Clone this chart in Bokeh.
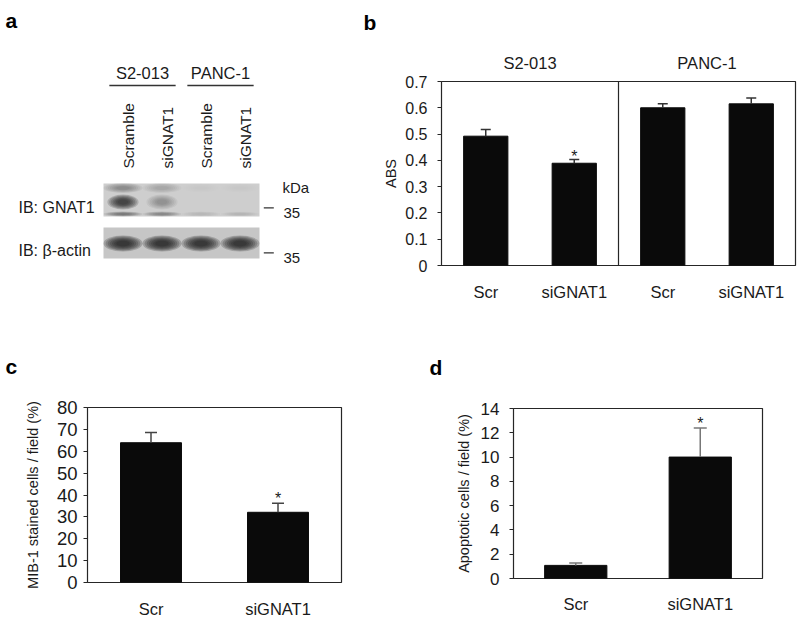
import math
from bokeh.plotting import figure
from bokeh.models import Range1d, FixedTicker, Span, Label, LinearAxis
from bokeh.layouts import row, column
from bokeh.embed import file_html
from bokeh.resources import INLINE
from bokeh.core.properties import value

FONT = "Liberation Sans"
INK = "#1a1a1a"
BAR = "#0a0a0a"
FRAME = "#262626"

# ---------------- data ----------------
# panel a (western blot)
blot_lanes = ["Scramble", "siGNAT1", "Scramble", "siGNAT1"]
blot_cell_lines = ["S2-013", "PANC-1"]
blot_rows = ["IB: GNAT1", "IB: \u03b2-actin"]
marker_kda = ["35", "35"]
gnat1_band = [0.9, 0.25, 0.0, 0.0]
gnat1_top_smear = [0.45, 0.25, 0.03, 0.03]
gnat1_bottom_line = [0.55, 0.45, 0.12, 0.1]
actin_band = [1.0, 1.0, 0.98, 0.95]

# panel b
b_groups = ["S2-013", "PANC-1"]
b_cats = ["Scr", "siGNAT1", "Scr", "siGNAT1"]
b_abs = [0.492, 0.389, 0.600, 0.615]
b_err = [0.025, 0.014, 0.015, 0.022]
b_sig = ["", "*", "", ""]
b_yticks = [0, 0.1, 0.2, 0.3, 0.4, 0.5, 0.6, 0.7]

# panel c
c_cats = ["Scr", "siGNAT1"]
c_vals = [63.9, 32.1]
c_err = [4.7, 4.1]
c_sig = ["", "*"]
c_yticks = [0, 10, 20, 30, 40, 50, 60, 70, 80]

# panel d
d_cats = ["Scr", "siGNAT1"]
d_vals = [1.08, 10.0]
d_err = [0.2, 2.4]
d_sig = ["", "*"]
d_yticks = [0, 2, 4, 6, 8, 10, 12, 14]


# ---------------- helpers ----------------
def new_bar_fig(w, h, xr, yr, ml, mr, mt, mb):
    p = figure(width=w, height=h, x_range=Range1d(*xr), y_range=Range1d(*yr),
               output_backend="svg", toolbar_location=None,
               min_border_left=ml, min_border_right=mr,
               min_border_top=mt, min_border_bottom=mb)
    p.xgrid.visible = False
    p.ygrid.visible = False
    p.outline_line_color = FRAME
    p.outline_line_width = 1.2
    p.background_fill_color = "white"
    p.border_fill_color = "white"
    return p


def letter_title(p, letter, offset, standoff):
    p.title.text = letter
    p.title.align = "left"
    p.title.offset = offset
    p.title.standoff = standoff
    p.title.vertical_align = "bottom"
    p.title.text_font = FONT
    p.title.text_font_size = "21px"
    p.title.text_font_style = "bold"
    p.title.text_color = "#000000"


def style_axes(p, xs, cats, yticks, ylabel, tick_font, tick_standoff,
               label_standoff, cat_standoff, overrides=None):
    xa = p.xaxis[0]
    xa.ticker = FixedTicker(ticks=xs)
    xa.major_label_overrides = {x: c for x, c in zip(xs, cats)}
    xa.axis_line_color = None
    xa.major_tick_line_color = None
    xa.minor_tick_line_color = None
    xa.major_tick_out = 0
    xa.major_tick_in = 0
    xa.major_label_standoff = cat_standoff
    xa.major_label_text_font = FONT
    xa.major_label_text_font_size = "16.5px"
    xa.major_label_text_color = INK

    ya = p.yaxis[0]
    ya.ticker = FixedTicker(ticks=yticks)
    if overrides:
        ya.major_label_overrides = overrides
    ya.axis_line_color = None
    ya.minor_tick_line_color = None
    ya.major_tick_line_color = FRAME
    ya.major_tick_out = 4
    ya.major_tick_in = 0
    ya.major_label_standoff = tick_standoff
    ya.major_label_text_font = FONT
    ya.major_label_text_font_size = tick_font
    ya.major_label_text_color = INK
    ya.axis_label = ylabel
    ya.axis_label_text_font = FONT
    ya.axis_label_text_font_size = "14.5px"
    ya.axis_label_text_font_style = "normal"
    ya.axis_label_text_color = INK
    ya.axis_label_standoff = label_standoff


def draw_bars(p, xs, vals, errs, sig, width, err_color, cap, sig_offset):
    tops = [v + e for v, e in zip(vals, errs)]
    p.vbar(x=xs, top=vals, bottom=0, width=width, fill_color=BAR, line_color=BAR)
    p.segment(x0=xs, y0=vals, x1=xs, y1=tops, line_color=err_color, line_width=1.5)
    p.scatter(x=xs, y=tops, marker="dash", size=cap, line_color=err_color, line_width=1.5)
    p.text(x=xs, y=tops, text=sig, text_align="center", text_baseline="alphabetic",
           y_offset=sig_offset, text_font=value(FONT), text_font_size="16px",
           text_color=INK)


# ---------------- layout geometry (page px) ----------------
TOTAL_W, TOTAL_H = 800, 620
TOP_H = 318
BOT_H = TOTAL_H - TOP_H
A_W = 380
B_W = TOTAL_W - A_W
C_W = 404
D_W = TOTAL_W - C_W

# ---------------- panel a: blot ----------------
LANE = 39.0          # px per lane
LANE0 = 103.0        # page x of the blot's left edge


def lx(px):
    return (px - LANE0) / LANE


pa = figure(width=A_W, height=TOP_H, x_range=Range1d(lx(0), lx(A_W)),
            y_range=Range1d(TOP_H, 0), output_backend="svg", toolbar_location=None,
            min_border=0, x_axis_location=None, y_axis_location=None,
            outline_line_color=None, title_location=None)
pa.grid.visible = False
pa.background_fill_color = "white"
pa.border_fill_color = "white"

n = len(blot_lanes)
lane_x = [i + 0.5 for i in range(n)]
pa.quad(left=[0, 0], right=[n, n], top=[183, 227], bottom=[216, 258],
        fill_color=["#cecece", "#c6c6c6"], line_color=None)


def band(xs, y, w, h, intens, color="#1a1a1a", layers=7, a=0.2, smin=0.35):
    for k in range(layers):
        s = 1.0 - (1.0 - smin) * k / (layers - 1)
        pa.ellipse(x=xs, y=y, width=w * s, height=h * s, fill_color=color,
                   fill_alpha=[a * i for i in intens], line_color=None)


band(lane_x, 187.5, 1.0, 10, gnat1_top_smear, a=0.12)
band(lane_x, 201.5, 0.8, 15, gnat1_band)
band(lane_x, 213.5, 1.0, 5, gnat1_bottom_line, a=0.15)
band(lane_x, 243, 1.0, 16, actin_band, a=0.22)

group_x = [(lane_x[2 * g] + lane_x[2 * g + 1]) / 2 for g in range(len(blot_cell_lines))]
pa.text(x=group_x, y=[72.5] * len(group_x), text=blot_cell_lines, text_align="center",
        text_baseline="alphabetic", text_font=value(FONT), text_font_size="16.5px",
        text_color=INK)
pa.segment(x0=[g - 0.85 for g in group_x], x1=[g + 0.85 for g in group_x],
           y0=85, y1=85, line_color="#333333", line_width=1.3)
pa.text(x=lane_x, y=168, text=blot_lanes, angle=math.pi / 2, text_align="left",
        text_baseline="middle", x_offset=5, text_font=value(FONT),
        text_font_size="15.5px", text_color=INK)
pa.text(x=[0, 0], y=[207, 250], text=blot_rows, text_align="left",
        text_baseline="alphabetic", x_offset=-85, text_font=value(FONT),
        text_font_size="16px", text_color=INK)
pa.text(x=[n], y=[187], text=["kDa"], text_align="left", text_baseline="alphabetic",
        x_offset=23, text_font=value(FONT), text_font_size="15px", text_color=INK)
pa.text(x=[n, n], y=[212, 257], text=marker_kda, text_align="left",
        text_baseline="alphabetic", x_offset=24, text_font=value(FONT),
        text_font_size="15px", text_color=INK)
pa.segment(x0=lx(263.3), x1=lx(273.3), y0=[207.3, 252.3], y1=[207.3, 252.3],
           line_color="#333333", line_width=1.2)
for letter, px, py in [("a", 5, 20), ("b", 363, 22)]:
    pa.add_layout(Label(x=lx(px), y=py, text=letter, text_font=FONT,
                        text_font_size="21px", text_font_style="bold",
                        text_color="#000000", text_align="left",
                        text_baseline="alphabetic"))

# ---------------- panel b ----------------
b_xr = (0, len(b_cats))
b_yr = (0, 0.7)
pb = new_bar_fig(B_W, TOP_H, b_xr, b_yr, 58, 5, 81, TOP_H - 81 - 184)
pb.title.visible = False
bx = [i + 0.5 for i in range(len(b_cats))]
style_axes(pb, bx, b_cats, b_yticks, "ABS", "16px", 10, 3, 17, overrides={0: "0"})
draw_bars(pb, bx, b_abs, b_err, b_sig, 0.5, "#333333", 10, -3)
pb.add_layout(Span(location=(bx[1] + bx[2]) / 2, dimension="height",
                   line_color=FRAME, line_width=1.2))
gx = [(bx[2 * g] + bx[2 * g + 1]) / 2 for g in range(len(b_groups))]
top_axis = LinearAxis(ticker=FixedTicker(ticks=gx),
                      major_label_overrides={x: t for x, t in zip(gx, b_groups)},
                      axis_line_color=None, major_tick_line_color=None,
                      minor_tick_line_color=None, major_tick_out=0, major_tick_in=0,
                      major_label_standoff=10, major_label_text_font=FONT,
                      major_label_text_font_size="16.5px", major_label_text_color=INK)
pb.add_layout(top_axis, "above")

# ---------------- panel c ----------------
c_xr = (0, len(c_cats))
c_yr = (0, 80)
pc = new_bar_fig(C_W, BOT_H, c_xr, c_yr, 87, 63, 89, BOT_H - 89 - 176)
cx = [i + 0.5 for i in range(len(c_cats))]
style_axes(pc, cx, c_cats, c_yticks, "MIB-1 stained cells / field (%)", "18.5px", 6, 13, 17)
draw_bars(pc, cx, c_vals, c_err, c_sig, 0.48, "#444444", 12, -5)
letter_title(pc, "c", -82, 59)

# ---------------- panel d ----------------
d_xr = (0, len(d_cats))
d_yr = (0, 14)
pd_ = new_bar_fig(D_W, BOT_H, d_xr, d_yr, 109, 38, 90, BOT_H - 90 - 170)
dx = [i + 0.5 for i in range(len(d_cats))]
style_axes(pd_, dx, d_cats, d_yticks, "Apoptotic cells / field (%)", "17px", 10, 6, 16)
draw_bars(pd_, dx, d_vals, d_err, d_sig, 0.5, "#777777", 13, -4)
letter_title(pd_, "d", -84, 59)

layout = column(row(column(pa), column(pb)), row(column(pc), column(pd_)))
open("out.html", "w").write(file_html(layout, INLINE, title="GNAT1 figure"))
